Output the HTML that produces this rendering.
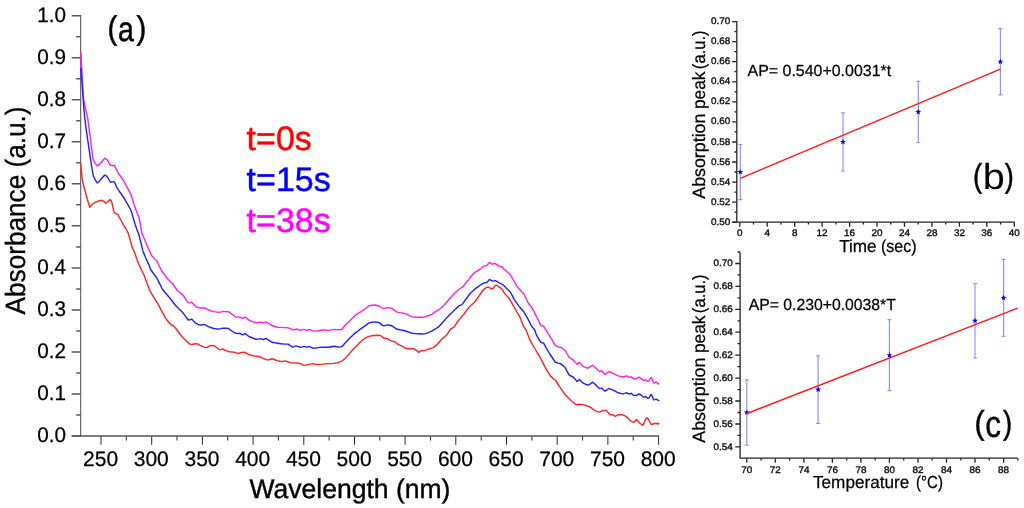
<!DOCTYPE html>
<html><head><meta charset="utf-8"><title>Figure</title>
<style>
html,body{margin:0;padding:0;background:#fff;}
body{width:1024px;height:508px;overflow:hidden;}
svg{display:block;font-family:"Liberation Sans",sans-serif;text-rendering:geometricPrecision;}
</style></head><body>
<svg width="1024" height="508" viewBox="0 0 1024 508">
<defs><filter id="soft" x="0" y="0" width="1024" height="508" filterUnits="userSpaceOnUse"><feGaussianBlur stdDeviation="0.35"/></filter></defs>
<rect width="1024" height="508" fill="#fff"/>
<g filter="url(#soft)">
<path d="M80.7,15.1 V436.6" stroke="#505050" stroke-width="1.05" fill="none"/>
<path d="M101.0,436.0 V444.8 M151.7,436.0 V444.8 M202.4,436.0 V444.8 M253.1,436.0 V444.8 M303.8,436.0 V444.8 M354.5,436.0 V444.8 M405.1,436.0 V444.8 M455.8,436.0 V444.8 M506.5,436.0 V444.8 M557.2,436.0 V444.8 M607.9,436.0 V444.8 M658.6,436.0 V444.8 M126.3,436.0 V440.5 M177.0,436.0 V440.5 M227.7,436.0 V440.5 M278.4,436.0 V440.5 M329.1,436.0 V440.5 M379.8,436.0 V440.5 M430.5,436.0 V440.5 M481.2,436.0 V440.5 M531.9,436.0 V440.5 M582.6,436.0 V440.5 M633.2,436.0 V440.5 " stroke="#2c2c2c" stroke-width="1.0" fill="none"/>
<path d="M71.7,436.0 H659.1" stroke="#555" stroke-width="1.35" fill="none"/>
<path d="M71.7,436.0 H80.7 M71.7,394.0 H80.7 M71.7,351.9 H80.7 M71.7,309.9 H80.7 M71.7,267.9 H80.7 M71.7,225.8 H80.7 M71.7,183.8 H80.7 M71.7,141.8 H80.7 M71.7,99.8 H80.7 M71.7,57.7 H80.7 M71.7,15.7 H80.7 M76.2,415.0 H80.7 M76.2,373.0 H80.7 M76.2,330.9 H80.7 M76.2,288.9 H80.7 M76.2,246.9 H80.7 M76.2,204.8 H80.7 M76.2,162.8 H80.7 M76.2,120.8 H80.7 M76.2,78.7 H80.7 M76.2,36.7 H80.7 " stroke="#5a5a5a" stroke-width="1.5" fill="none"/>
<g font-size="20" fill="#000" stroke="#000" stroke-width="0.25">
<text transform="translate(66,442.0) scale(0.985,1)" font-size="21" text-anchor="end">0.0</text>
<text transform="translate(66,400.0) scale(0.985,1)" font-size="21" text-anchor="end">0.1</text>
<text transform="translate(66,357.9) scale(0.985,1)" font-size="21" text-anchor="end">0.2</text>
<text transform="translate(66,315.9) scale(0.985,1)" font-size="21" text-anchor="end">0.3</text>
<text transform="translate(66,273.9) scale(0.985,1)" font-size="21" text-anchor="end">0.4</text>
<text transform="translate(66,231.8) scale(0.985,1)" font-size="21" text-anchor="end">0.5</text>
<text transform="translate(66,189.8) scale(0.985,1)" font-size="21" text-anchor="end">0.6</text>
<text transform="translate(66,147.8) scale(0.985,1)" font-size="21" text-anchor="end">0.7</text>
<text transform="translate(66,105.8) scale(0.985,1)" font-size="21" text-anchor="end">0.8</text>
<text transform="translate(66,63.7) scale(0.985,1)" font-size="21" text-anchor="end">0.9</text>
<text transform="translate(66,21.7) scale(0.985,1)" font-size="21" text-anchor="end">1.0</text>
<text x="100.6" y="466.1" font-size="21" text-anchor="middle">250</text>
<text x="151.3" y="466.1" font-size="21" text-anchor="middle">300</text>
<text x="202.0" y="466.1" font-size="21" text-anchor="middle">350</text>
<text x="252.7" y="466.1" font-size="21" text-anchor="middle">400</text>
<text x="303.4" y="466.1" font-size="21" text-anchor="middle">450</text>
<text x="354.1" y="466.1" font-size="21" text-anchor="middle">500</text>
<text x="404.7" y="466.1" font-size="21" text-anchor="middle">550</text>
<text x="455.4" y="466.1" font-size="21" text-anchor="middle">600</text>
<text x="506.1" y="466.1" font-size="21" text-anchor="middle">650</text>
<text x="556.8" y="466.1" font-size="21" text-anchor="middle">700</text>
<text x="607.5" y="466.1" font-size="21" text-anchor="middle">750</text>
<text x="658.2" y="466.1" font-size="21" text-anchor="middle">800</text>
</g>
<text transform="translate(249.38,497.50) scale(0.9829,1.0000)" font-size="27.0" fill="#000" stroke="#000" stroke-width="0.4">Wavelength (nm)</text>
<text transform="translate(25.20,314.45) rotate(-90) scale(0.9382,1.0000)" font-size="27.9" fill="#000" stroke="#000" stroke-width="0.3">Absorbance (a.u.)</text>
<text transform="translate(107.48,38.62) scale(0.8915,0.9921)" font-size="33" fill="#000" stroke="#000" stroke-width="0.5">(</text>
<text transform="translate(118.08,40.66) scale(0.8672,1.0509)" font-size="33" fill="#000" stroke="#000" stroke-width="0.5">a</text>
<text transform="translate(136.53,38.62) scale(0.8915,0.9921)" font-size="33" fill="#000" stroke="#000" stroke-width="0.5">)</text>
<text transform="translate(246.6,149.9) scale(1,1.0)" font-size="34" fill="#ff0000" stroke="#ff0000" stroke-width="0.45">t=0s</text>
<text transform="translate(246.6,191.4) scale(1,1.0)" font-size="34" fill="#0000ff" stroke="#0000ff" stroke-width="0.45">t=15s</text>
<text transform="translate(246.6,232.3) scale(1,1.0)" font-size="34" fill="#ff00ff" stroke="#ff00ff" stroke-width="0.45">t=38s</text>
<g fill="none" stroke-width="1.45" stroke-linejoin="round" stroke-linecap="round">
<path d="M80.6,163.0 L82.3,179.8 L83.5,185.0 L84.7,189.8 L85.8,193.6 L87.5,199.8 L89.8,207.2 L92.0,204.5 L94.7,202.6 L98.0,201.2 L101.6,200.3 L104.0,201.5 L105.9,203.2 L108.3,201.2 L110.4,199.7 L111.5,201.5 L112.4,204.6 L113.4,209.5 L114.4,213.1 L116.0,213.6 L117.7,214.4 L120.3,219.0 L123.2,224.3 L125.8,228.5 L128.2,233.1 L130.2,240.0 L132.1,246.9 L135.1,253.8 L137.0,259.5 L139.0,264.6 L141.5,270.0 L143.9,274.8 L146.8,282.5 L149.8,290.5 L153.8,297.3 L157.7,303.3 L161.6,310.8 L165.5,318.1 L168.5,322.0 L171.4,325.0 L173.4,325.8 L175.4,327.9 L178.3,331.8 L181.3,335.8 L184.3,338.9 L187.2,341.7 L189.2,343.6 L191.1,344.6 L194.0,344.0 L197.0,343.7 L200.0,345.3 L202.9,346.6 L205.0,347.4 L206.9,347.6 L208.9,346.3 L210.8,345.6 L212.8,345.5 L214.7,346.0 L217.2,348.0 L219.7,349.6 L221.2,349.6 L222.6,349.0 L224.6,350.0 L226.6,350.9 L229.5,351.7 L234.0,352.1 L236.2,352.9 L238.4,353.5 L241.0,352.6 L243.7,352.1 L246.0,353.0 L248.2,354.2 L251.3,355.2 L254.4,356.1 L256.6,356.2 L258.8,356.5 L261.5,357.7 L264.1,358.8 L266.4,359.6 L268.6,360.0 L270.4,359.3 L272.1,358.8 L274.8,359.7 L277.4,360.6 L280.0,361.2 L282.7,361.5 L285.4,360.9 L287.6,361.7 L289.8,362.7 L293.3,362.9 L296.9,363.0 L300.5,363.6 L302.3,364.6 L304.0,365.4 L307.6,364.8 L310.3,364.1 L312.9,363.6 L315.5,364.2 L318.2,364.5 L323.5,364.1 L327.1,363.6 L332.4,363.6 L335.0,363.3 L337.7,362.7 L340.0,361.9 L342.1,360.9 L344.5,359.0 L346.6,356.8 L349.3,353.8 L352.0,350.6 L354.6,348.0 L357.3,345.3 L360.0,342.6 L362.6,340.0 L365.3,338.2 L367.9,336.8 L371.0,335.9 L374.1,335.5 L377.2,335.3 L380.3,335.5 L382.1,336.6 L383.9,338.2 L385.6,338.3 L387.4,338.7 L389.2,339.8 L391.0,340.9 L392.8,341.2 L394.5,341.7 L396.3,343.0 L398.1,344.4 L400.3,345.3 L402.5,346.2 L404.2,347.3 L406.0,348.5 L407.8,348.8 L409.6,348.8 L411.8,348.7 L414.0,348.8 L416.4,350.4 L418.8,352.4 L420.0,351.5 L421.1,350.6 L422.9,350.7 L424.7,350.6 L427.3,349.6 L430.0,348.5 L431.8,348.1 L433.4,347.6 L437.6,344.1 L442.4,338.6 L446.6,335.2 L450.7,329.0 L454.1,327.2 L458.3,320.7 L462.4,316.1 L467.2,309.7 L470.0,306.2 L474.1,302.8 L478.3,297.2 L482.4,291.0 L484.1,289.4 L485.5,288.1 L486.8,287.2 L488.1,287.2 L489.4,287.6 L490.8,288.5 L492.1,289.0 L493.2,288.2 L494.2,286.9 L495.2,285.7 L496.2,285.1 L497.7,286.0 L499.2,287.2 L500.6,288.0 L501.9,289.0 L503.2,291.1 L504.5,293.4 L506.7,295.7 L508.9,297.9 L510.7,300.9 L512.5,304.1 L514.2,307.2 L516.0,310.3 L518.3,314.3 L520.5,318.3 L521.8,321.8 L523.1,325.4 L524.5,328.0 L525.9,329.5 L527.8,334.5 L529.8,339.7 L532.3,344.2 L534.8,348.5 L537.7,353.5 L540.7,358.4 L543.2,363.3 L545.6,368.2 L548.0,372.2 L550.5,376.1 L553.0,378.4 L555.4,380.0 L557.9,384.0 L560.4,387.9 L562.8,391.4 L565.3,394.8 L568.2,397.8 L571.2,400.7 L573.6,402.7 L576.1,404.6 L579.5,404.3 L583.0,404.6 L586.0,405.5 L588.9,406.6 L591.5,408.0 L593.1,409.3 L595.0,410.6 L597.1,411.7 L600.2,412.0 L601.4,411.2 L602.6,410.6 L604.5,410.4 L606.5,410.6 L608.1,412.5 L609.7,414.5 L611.2,414.7 L612.8,414.8 L614.0,415.7 L615.2,416.4 L616.6,415.6 L618.0,414.8 L620.5,414.7 L623.1,414.8 L625.0,415.9 L627.0,417.2 L629.0,419.2 L630.9,421.1 L632.4,421.9 L633.8,422.4 L635.2,421.0 L636.5,419.6 L638.0,421.3 L639.6,423.0 L641.2,424.3 L642.8,425.4 L644.0,423.2 L645.1,420.4 L646.0,418.8 L647.0,417.7 L647.8,418.5 L648.6,419.6 L649.8,422.0 L651.1,424.3 L652.4,424.2 L653.8,423.8 L656.1,423.2 L657.7,424.0 L658.8,423.5" stroke="#ff2626"/>
<path d="M80.9,52.2 L82.2,76.0 L83.5,99.0 L85.6,109.0 L87.8,118.7 L89.0,128.0 L90.2,136.5 L91.6,148.0 L93.0,159.4 L95.0,163.0 L97.3,166.1 L99.3,164.4 L101.2,162.5 L103.0,160.2 L104.8,158.3 L106.2,159.0 L107.5,160.2 L108.9,162.8 L110.3,165.2 L112.3,165.4 L114.3,165.4 L116.4,169.2 L118.5,173.5 L121.0,177.0 L123.2,180.0 L127.2,187.3 L131.1,194.8 L133.1,201.2 L135.1,207.6 L137.0,212.6 L139.0,217.4 L140.5,225.0 L141.9,233.1 L144.4,239.0 L146.9,245.0 L149.3,250.4 L151.8,255.8 L154.3,258.4 L156.7,260.7 L158.7,265.0 L161.6,270.8 L164.5,274.8 L167.5,278.7 L170.0,281.2 L172.4,283.6 L174.9,287.0 L177.3,290.5 L180.3,293.0 L183.2,295.4 L185.7,299.2 L188.2,302.9 L190.0,302.8 L191.7,302.3 L193.8,304.5 L196.0,306.7 L198.0,307.5 L200.0,308.0 L202.0,308.0 L203.9,307.6 L205.9,308.5 L207.9,309.6 L210.8,310.7 L213.8,311.6 L216.7,312.0 L219.7,312.2 L221.2,311.9 L222.6,311.4 L225.5,311.6 L228.5,311.8 L229.5,312.2 L232.6,314.7 L235.8,317.0 L238.0,317.1 L240.2,317.0 L241.5,317.8 L242.8,318.4 L244.0,317.7 L245.1,317.0 L247.0,318.5 L249.0,320.1 L252.5,321.6 L256.1,322.8 L258.4,322.5 L260.6,321.9 L261.9,322.5 L263.2,322.8 L264.6,322.4 L265.9,321.9 L269.0,323.7 L272.1,325.5 L274.8,326.5 L277.4,327.2 L281.0,327.4 L284.5,327.6 L288.1,327.8 L290.8,328.9 L293.4,329.9 L295.1,329.5 L296.9,329.0 L298.7,329.8 L300.5,330.4 L302.2,329.9 L304.0,329.4 L305.8,329.9 L307.6,330.4 L309.3,329.4 L311.1,330.2 L312.9,331.1 L315.5,331.0 L318.2,330.8 L320.8,330.3 L323.5,329.9 L326.2,330.2 L328.8,330.4 L331.5,329.9 L334.2,329.4 L336.8,329.6 L339.5,329.7 L340.4,329.9 L342.1,329.0 L344.9,325.8 L347.5,323.1 L350.2,320.5 L352.8,317.8 L355.5,315.1 L359.0,312.9 L362.6,310.7 L365.7,308.3 L368.8,305.9 L371.9,305.3 L375.0,305.0 L377.2,305.5 L379.4,306.3 L381.2,307.5 L383.0,308.6 L385.2,308.2 L387.4,307.7 L389.6,307.9 L391.9,308.4 L394.5,310.3 L397.2,312.1 L399.8,312.6 L402.5,313.0 L404.7,313.6 L406.9,314.3 L409.5,315.7 L412.2,316.9 L415.3,317.2 L418.4,317.3 L421.5,317.3 L424.7,317.1 L428.2,315.8 L431.7,314.3 L434.1,312.7 L439.0,309.7 L443.8,305.5 L447.9,300.7 L452.1,295.9 L456.2,291.7 L459.7,289.0 L463.1,286.6 L465.9,282.8 L468.6,279.6 L471.3,276.0 L474.4,272.7 L477.0,271.0 L479.7,269.5 L481.9,267.8 L484.1,266.0 L485.5,265.9 L486.8,265.6 L488.1,264.0 L489.4,262.4 L490.8,263.2 L492.1,264.2 L493.5,263.8 L494.8,263.3 L497.0,264.7 L499.2,266.3 L500.6,266.6 L501.9,266.8 L503.6,268.6 L505.4,270.4 L507.6,272.2 L509.8,273.9 L511.6,277.0 L513.4,280.1 L515.6,283.7 L517.8,287.2 L520.9,290.8 L524.0,294.3 L526.2,298.8 L528.4,303.2 L530.7,306.3 L532.9,309.4 L535.1,313.9 L537.3,318.3 L539.1,321.9 L540.9,325.4 L542.2,325.8 L543.5,326.2 L545.8,329.8 L548.0,333.3 L549.5,335.7 L552.5,340.7 L555.4,345.6 L558.4,346.7 L561.3,347.6 L563.3,349.0 L565.3,350.5 L567.2,354.0 L569.2,357.4 L571.0,358.5 L572.8,359.4 L575.0,361.9 L577.1,364.3 L578.3,363.4 L579.4,362.3 L581.2,364.3 L583.0,366.3 L585.5,367.4 L587.9,368.2 L589.0,367.7 L590.0,366.8 L591.4,365.8 L592.8,365.2 L594.5,366.7 L596.3,368.4 L597.8,370.0 L599.4,371.5 L600.6,371.2 L601.8,370.7 L603.4,372.7 L605.0,374.7 L607.0,373.0 L608.9,371.5 L611.2,372.5 L613.6,373.6 L616.0,374.8 L618.3,375.9 L620.7,376.5 L623.1,377.0 L624.8,376.5 L626.5,375.8 L628.0,376.6 L629.4,377.4 L630.4,377.1 L631.3,376.7 L632.3,377.7 L633.3,378.6 L634.9,378.7 L636.5,378.6 L637.6,377.9 L638.8,377.0 L640.0,377.8 L641.2,378.6 L642.4,379.6 L643.5,380.5 L644.5,380.3 L645.4,379.9 L646.7,380.7 L648.0,381.5 L648.8,381.0 L649.5,380.2 L650.3,378.7 L651.1,377.5 L651.7,378.3 L652.2,379.4 L653.0,381.3 L653.8,383.0 L655.0,382.7 L656.1,382.1 L657.5,383.1 L658.8,384.1" stroke="#ff22e8"/>
<path d="M80.9,68.5 L82.4,88.0 L83.9,108.9 L84.8,118.0 L85.8,126.6 L87.0,135.0 L89.0,148.5 L91.0,162.5 L92.2,169.5 L93.3,175.9 L95.3,180.0 L97.3,183.0 L99.3,181.2 L101.2,179.1 L103.0,176.8 L104.8,175.1 L106.2,175.8 L107.5,177.0 L108.9,179.5 L110.3,181.9 L112.0,181.9 L113.8,181.7 L115.4,184.0 L116.9,187.7 L120.0,192.3 L123.2,196.7 L127.2,203.6 L131.1,210.5 L133.1,217.5 L135.1,224.3 L137.0,229.8 L139.0,235.1 L141.0,243.0 L142.9,250.9 L145.8,258.0 L148.8,264.6 L150.8,269.8 L153.7,273.8 L156.7,277.7 L159.6,283.6 L162.6,289.5 L165.5,293.0 L168.5,296.4 L172.0,300.8 L175.4,305.3 L179.3,309.2 L183.2,313.1 L185.7,316.6 L188.2,320.0 L190.0,319.8 L191.7,319.1 L193.8,321.3 L196.0,323.4 L198.0,324.4 L200.0,325.0 L202.0,325.0 L203.9,324.4 L205.9,325.2 L207.9,326.3 L210.8,327.5 L213.8,328.5 L216.7,328.9 L219.7,328.9 L221.2,328.6 L222.6,328.1 L225.5,328.3 L228.5,328.5 L229.5,329.4 L232.6,331.5 L235.8,333.4 L238.0,333.5 L240.2,333.4 L241.5,334.3 L242.8,334.9 L244.0,334.2 L245.1,333.4 L247.0,335.0 L249.0,336.5 L252.5,338.0 L256.1,339.3 L258.4,339.1 L260.6,338.6 L261.9,339.2 L263.2,339.5 L264.6,339.0 L265.9,338.4 L269.0,340.4 L272.1,342.3 L274.8,342.8 L277.4,343.2 L281.0,343.7 L284.5,344.1 L288.1,344.1 L290.3,345.7 L292.5,347.1 L294.2,346.6 L296.0,345.9 L298.2,346.6 L300.5,347.3 L302.2,346.9 L304.0,346.4 L305.8,346.8 L307.6,347.1 L309.3,346.4 L311.1,347.3 L312.9,348.2 L315.5,348.0 L318.2,347.6 L320.8,347.3 L323.5,347.1 L326.2,347.3 L328.8,347.3 L331.5,346.7 L334.2,346.2 L336.8,346.7 L339.5,347.1 L340.8,346.9 L342.1,346.4 L344.9,343.2 L347.5,340.5 L350.2,337.8 L352.8,335.3 L355.5,332.9 L359.0,330.2 L362.6,327.6 L365.7,325.3 L368.8,323.1 L371.9,322.3 L375.0,321.9 L377.2,322.2 L379.4,322.8 L381.2,324.4 L383.0,325.8 L385.2,325.5 L387.4,324.9 L389.6,325.2 L391.9,325.8 L394.5,327.6 L397.2,329.3 L399.8,329.8 L402.5,330.2 L404.7,330.8 L406.9,331.5 L409.5,332.4 L412.2,333.2 L415.3,333.6 L418.4,333.8 L421.5,334.0 L424.7,333.9 L428.2,332.6 L431.7,331.1 L434.1,329.7 L438.3,327.2 L442.4,322.8 L446.6,317.9 L450.7,313.8 L454.8,309.7 L459.0,305.9 L462.0,304.6 L465.9,299.3 L470.0,293.8 L474.1,289.7 L478.3,286.6 L479.7,285.5 L481.9,284.1 L484.1,282.8 L485.5,282.7 L486.8,282.4 L488.1,281.0 L489.4,279.6 L490.8,280.2 L492.1,281.0 L493.7,280.9 L495.3,280.7 L497.2,281.7 L499.2,282.8 L501.0,283.7 L502.7,284.6 L505.0,286.8 L507.2,289.0 L509.0,290.8 L510.7,292.6 L512.5,296.1 L514.3,299.6 L516.5,302.8 L518.7,305.9 L521.3,309.0 L524.0,312.1 L525.8,315.2 L527.6,318.3 L529.4,321.9 L531.1,325.4 L532.9,327.7 L534.7,329.8 L535.7,332.8 L536.7,335.7 L538.7,338.9 L540.7,342.0 L542.2,342.7 L543.6,343.2 L546.5,348.3 L549.5,353.5 L552.5,358.0 L555.4,362.3 L557.9,363.1 L560.4,363.7 L562.7,365.4 L564.9,367.2 L567.0,371.2 L569.2,375.1 L571.0,376.0 L572.8,376.7 L575.0,379.1 L577.1,381.4 L578.3,380.5 L579.4,379.4 L581.2,381.2 L583.0,383.0 L585.5,384.2 L587.9,385.0 L589.0,384.7 L590.0,384.1 L591.4,383.0 L592.8,382.2 L594.5,383.7 L596.3,385.4 L597.8,387.0 L599.4,388.5 L600.6,388.4 L601.8,388.1 L603.4,389.7 L605.0,391.2 L607.0,389.8 L608.9,388.5 L611.2,389.4 L613.6,390.4 L616.0,391.6 L618.3,392.8 L620.7,393.4 L623.1,393.9 L624.8,393.4 L626.5,392.8 L628.0,393.5 L629.4,394.1 L630.4,393.8 L631.3,393.3 L632.3,394.3 L633.3,395.2 L634.9,395.4 L636.5,395.5 L637.6,394.8 L638.8,393.9 L640.0,394.5 L641.2,395.2 L642.4,396.3 L643.5,397.2 L644.5,396.9 L645.4,396.4 L646.7,397.4 L648.0,398.3 L648.8,397.8 L649.5,397.2 L650.3,395.6 L651.1,394.4 L651.7,395.0 L652.2,395.9 L653.0,398.0 L653.8,399.9 L655.0,399.6 L656.1,399.1 L657.5,399.9 L658.8,400.7" stroke="#2424ff"/>
</g>
<g stroke="#242424" stroke-width="1.3" fill="none">
<path d="M736.8,21.0 V222.2 M732.3,222.2 H1014.9"/>
<path d="M732.2,222.2 H736.8 M732.2,202.1 H736.8 M732.2,182.1 H736.8 M732.2,162.0 H736.8 M732.2,142.0 H736.8 M732.2,121.9 H736.8 M732.2,101.8 H736.8 M732.2,81.8 H736.8 M732.2,61.7 H736.8 M732.2,41.7 H736.8 M732.2,21.6 H736.8 M734.4,212.2 H736.8 M734.4,192.1 H736.8 M734.4,172.0 H736.8 M734.4,152.0 H736.8 M734.4,131.9 H736.8 M734.4,111.9 H736.8 M734.4,91.8 H736.8 M734.4,71.7 H736.8 M734.4,51.7 H736.8 M734.4,31.6 H736.8 M739.8,222.2 V226.8 M767.2,222.2 V226.8 M794.7,222.2 V226.8 M822.1,222.2 V226.8 M849.6,222.2 V226.8 M877.0,222.2 V226.8 M904.5,222.2 V226.8 M931.9,222.2 V226.8 M959.4,222.2 V226.8 M986.8,222.2 V226.8 M1014.3,222.2 V226.8 M753.5,222.2 V224.6 M781.0,222.2 V224.6 M808.4,222.2 V224.6 M835.9,222.2 V224.6 M863.3,222.2 V224.6 M890.8,222.2 V224.6 M918.2,222.2 V224.6 M945.7,222.2 V224.6 M973.1,222.2 V224.6 M1000.6,222.2 V224.6 "/>
</g>
<g font-size="9.5" fill="#111" stroke="#111" stroke-width="0.38">
<text transform="translate(730.2,224.7) scale(1.04,1)" text-anchor="end">0.50</text>
<text transform="translate(730.2,204.6) scale(1.04,1)" text-anchor="end">0.52</text>
<text transform="translate(730.2,184.6) scale(1.04,1)" text-anchor="end">0.54</text>
<text transform="translate(730.2,164.5) scale(1.04,1)" text-anchor="end">0.56</text>
<text transform="translate(730.2,144.5) scale(1.04,1)" text-anchor="end">0.58</text>
<text transform="translate(730.2,124.4) scale(1.04,1)" text-anchor="end">0.60</text>
<text transform="translate(730.2,104.3) scale(1.04,1)" text-anchor="end">0.62</text>
<text transform="translate(730.2,84.3) scale(1.04,1)" text-anchor="end">0.64</text>
<text transform="translate(730.2,64.2) scale(1.04,1)" text-anchor="end">0.66</text>
<text transform="translate(730.2,44.2) scale(1.04,1)" text-anchor="end">0.68</text>
<text transform="translate(730.2,24.1) scale(1.04,1)" text-anchor="end">0.70</text>
<text transform="translate(739.8,236.0) scale(1.04,1)" text-anchor="middle">0</text>
<text transform="translate(767.2,236.0) scale(1.04,1)" text-anchor="middle">4</text>
<text transform="translate(794.7,236.0) scale(1.04,1)" text-anchor="middle">8</text>
<text transform="translate(822.1,236.0) scale(1.04,1)" text-anchor="middle">12</text>
<text transform="translate(849.6,236.0) scale(1.04,1)" text-anchor="middle">16</text>
<text transform="translate(877.0,236.0) scale(1.04,1)" text-anchor="middle">20</text>
<text transform="translate(904.5,236.0) scale(1.04,1)" text-anchor="middle">24</text>
<text transform="translate(931.9,236.0) scale(1.04,1)" text-anchor="middle">28</text>
<text transform="translate(959.4,236.0) scale(1.04,1)" text-anchor="middle">32</text>
<text transform="translate(986.8,236.0) scale(1.04,1)" text-anchor="middle">36</text>
<text transform="translate(1014.3,236.0) scale(1.04,1)" text-anchor="middle">40</text>
</g>
<text transform="translate(839.22,251.80) scale(0.9896,1.0000)" font-size="17.3" fill="#000" stroke="#000" stroke-width="0.25">Time</text>
<text transform="translate(880.90,251.80) scale(0.9284,1.0000)" font-size="17.3" fill="#000" stroke="#000" stroke-width="0.25">(sec)</text>
<text transform="translate(704.90,198.73) rotate(-90) scale(0.9955,1.0000)" font-size="17.9" fill="#000" stroke="#000" stroke-width="0.25">Absorption</text>
<text transform="translate(704.90,109.12) rotate(-90) scale(0.9685,1.0000)" font-size="17.9" fill="#000" stroke="#000" stroke-width="0.25">peak</text>
<text transform="translate(704.90,69.13) rotate(-90) scale(0.9277,1.0000)" font-size="17.9" fill="#000" stroke="#000" stroke-width="0.25">(a.u.)</text>
<text transform="translate(747.57,75.60) scale(0.9960,1.0000)" font-size="16.0" fill="#000" stroke="#000" stroke-width="0.25">AP= 0.540+0.0031*t</text>
<text transform="translate(972.99,186.86) scale(0.8343,1.0018)" font-size="33" fill="#000" stroke="#000" stroke-width="0.5">(</text>
<text transform="translate(982.75,188.55) scale(1.1994,1.0935)" font-size="33" fill="#000" >b</text>
<text transform="translate(1004.74,186.86) scale(0.8229,1.0018)" font-size="33" fill="#000" stroke="#000" stroke-width="0.5">)</text>
<path d="M740.3,144.5 V199.6 M738.3,144.5 h4 M738.3,199.6 h4" stroke="#9292ff" stroke-width="1.2" fill="none"/>
<path d="M843.0,112.9 V171.0 M841.0,112.9 h4 M841.0,171.0 h4" stroke="#9292ff" stroke-width="1.2" fill="none"/>
<path d="M918.3,81.3 V142.5 M916.3,81.3 h4 M916.3,142.5 h4" stroke="#9292ff" stroke-width="1.2" fill="none"/>
<path d="M1000.4,28.6 V94.8 M998.4,28.6 h4 M998.4,94.8 h4" stroke="#9292ff" stroke-width="1.2" fill="none"/>
<polygon points="740.30,168.95 741.07,171.00 743.25,171.09 741.54,172.45 742.12,174.56 740.30,173.35 738.48,174.56 739.06,172.45 737.35,171.09 739.53,171.00" fill="#0000ff"/>
<polygon points="842.97,138.86 843.74,140.91 845.92,141.00 844.21,142.36 844.80,144.47 842.97,143.26 841.15,144.47 841.74,142.36 840.03,141.00 842.21,140.91" fill="#0000ff"/>
<polygon points="918.27,108.77 919.04,110.82 921.22,110.91 919.51,112.27 920.09,114.38 918.27,113.17 916.45,114.38 917.03,112.27 915.32,110.91 917.50,110.82" fill="#0000ff"/>
<polygon points="1000.41,58.62 1001.18,60.67 1003.36,60.76 1001.65,62.12 1002.23,64.23 1000.41,63.02 998.59,64.23 999.17,62.12 997.46,60.76 999.64,60.67" fill="#0000ff"/>
<path d="M740.3,178.3 L1000.4,69.1" stroke="#ff1a1a" stroke-width="1.4" fill="none"/>
<g stroke="#242424" stroke-width="1.3" fill="none">
<path d="M740.1,252.3 V458.2 M739.5,458.2 H1017.6"/>
<path d="M735.3,446.9 H740.1 M735.3,424.0 H740.1 M735.3,401.0 H740.1 M735.3,378.1 H740.1 M735.3,355.2 H740.1 M735.3,332.2 H740.1 M735.3,309.3 H740.1 M735.3,286.4 H740.1 M735.3,263.5 H740.1 M737.5,435.4 H740.1 M737.5,412.5 H740.1 M737.5,389.6 H740.1 M737.5,366.6 H740.1 M737.5,343.7 H740.1 M737.5,320.8 H740.1 M737.5,297.9 H740.1 M737.5,274.9 H740.1 M737.5,252.0 H740.1 M746.8,458.2 V462.8 M775.3,458.2 V462.8 M803.9,458.2 V462.8 M832.4,458.2 V462.8 M860.9,458.2 V462.8 M889.4,458.2 V462.8 M918.0,458.2 V462.8 M946.5,458.2 V462.8 M975.0,458.2 V462.8 M1003.6,458.2 V462.8 M761.1,458.2 V460.6 M789.6,458.2 V460.6 M818.1,458.2 V460.6 M846.7,458.2 V460.6 M875.2,458.2 V460.6 M903.7,458.2 V460.6 M932.2,458.2 V460.6 M960.8,458.2 V460.6 M989.3,458.2 V460.6 M1017.8,458.2 V460.6 "/>
</g>
<g font-size="9.5" fill="#111" stroke="#111" stroke-width="0.38">
<text transform="translate(732.8,449.6) scale(1.04,1)" text-anchor="end">0.54</text>
<text transform="translate(732.8,426.7) scale(1.04,1)" text-anchor="end">0.56</text>
<text transform="translate(732.8,403.7) scale(1.04,1)" text-anchor="end">0.58</text>
<text transform="translate(732.8,380.8) scale(1.04,1)" text-anchor="end">0.60</text>
<text transform="translate(732.8,357.9) scale(1.04,1)" text-anchor="end">0.62</text>
<text transform="translate(732.8,334.9) scale(1.04,1)" text-anchor="end">0.64</text>
<text transform="translate(732.8,312.0) scale(1.04,1)" text-anchor="end">0.66</text>
<text transform="translate(732.8,289.1) scale(1.04,1)" text-anchor="end">0.68</text>
<text transform="translate(732.8,266.2) scale(1.04,1)" text-anchor="end">0.70</text>
<text transform="translate(746.8,472.7) scale(1.04,1)" text-anchor="middle">70</text>
<text transform="translate(775.3,472.7) scale(1.04,1)" text-anchor="middle">72</text>
<text transform="translate(803.9,472.7) scale(1.04,1)" text-anchor="middle">74</text>
<text transform="translate(832.4,472.7) scale(1.04,1)" text-anchor="middle">76</text>
<text transform="translate(860.9,472.7) scale(1.04,1)" text-anchor="middle">78</text>
<text transform="translate(889.4,472.7) scale(1.04,1)" text-anchor="middle">80</text>
<text transform="translate(918.0,472.7) scale(1.04,1)" text-anchor="middle">82</text>
<text transform="translate(946.5,472.7) scale(1.04,1)" text-anchor="middle">84</text>
<text transform="translate(975.0,472.7) scale(1.04,1)" text-anchor="middle">86</text>
<text transform="translate(1003.6,472.7) scale(1.04,1)" text-anchor="middle">88</text>
</g>
<text transform="translate(813.01,488.20) scale(0.9863,1.0000)" font-size="17.4" fill="#000" stroke="#000" stroke-width="0.25">Temperature</text>
<text transform="translate(916.07,488.20) scale(0.8634,1.0000)" font-size="17.4" fill="#000" stroke="#000" stroke-width="0.25">(°C)</text>
<text transform="translate(704.80,442.73) rotate(-90) scale(0.9955,1.0000)" font-size="17.9" fill="#000" stroke="#000" stroke-width="0.25">Absorption</text>
<text transform="translate(704.80,353.12) rotate(-90) scale(0.9685,1.0000)" font-size="17.9" fill="#000" stroke="#000" stroke-width="0.25">peak</text>
<text transform="translate(704.80,313.13) rotate(-90) scale(0.9277,1.0000)" font-size="17.9" fill="#000" stroke="#000" stroke-width="0.25">(a.u.)</text>
<text transform="translate(748.77,310.40) scale(0.9842,1.0000)" font-size="16.0" fill="#000" stroke="#000" stroke-width="0.25">AP= 0.230+0.0038*T</text>
<text transform="translate(974.43,434.06) scale(0.9143,1.0018)" font-size="33" fill="#000" stroke="#000" stroke-width="0.5">(</text>
<text transform="translate(985.26,436.53) scale(0.9559,1.1394)" font-size="33" fill="#000" stroke="#000" stroke-width="0.35">c</text>
<text transform="translate(1003.04,434.06) scale(0.8343,1.0018)" font-size="33" fill="#000" stroke="#000" stroke-width="0.5">)</text>
<path d="M746.8,379.8 V445.2 M744.8,379.8 h4 M744.8,445.2 h4" stroke="#9292ff" stroke-width="1.2" fill="none"/>
<path d="M818.1,355.8 V423.4 M816.1,355.8 h4 M816.1,423.4 h4" stroke="#9292ff" stroke-width="1.2" fill="none"/>
<path d="M889.4,319.6 V390.7 M887.4,319.6 h4 M887.4,390.7 h4" stroke="#9292ff" stroke-width="1.2" fill="none"/>
<path d="M975.0,283.5 V358.0 M973.0,283.5 h4 M973.0,358.0 h4" stroke="#9292ff" stroke-width="1.2" fill="none"/>
<path d="M1003.6,259.4 V336.3 M1001.6,259.4 h4 M1001.6,336.3 h4" stroke="#9292ff" stroke-width="1.2" fill="none"/>
<polygon points="746.80,409.41 747.57,411.45 749.75,411.55 748.04,412.91 748.62,415.01 746.80,413.81 744.98,415.01 745.56,412.91 743.85,411.55 746.03,411.45" fill="#0000ff"/>
<polygon points="818.12,386.48 818.89,388.52 821.07,388.62 819.36,389.98 819.95,392.08 818.12,390.88 816.30,392.08 816.89,389.98 815.18,388.62 817.36,388.52" fill="#0000ff"/>
<polygon points="889.45,352.08 890.22,354.13 892.40,354.22 890.69,355.58 891.27,357.69 889.45,356.48 887.63,357.69 888.21,355.58 886.50,354.22 888.68,354.13" fill="#0000ff"/>
<polygon points="975.04,317.68 975.81,319.73 977.99,319.83 976.28,321.19 976.86,323.29 975.04,322.09 973.22,323.29 973.80,321.19 972.09,319.83 974.27,319.73" fill="#0000ff"/>
<polygon points="1003.57,294.75 1004.34,296.80 1006.52,296.90 1004.81,298.26 1005.39,300.36 1003.57,299.16 1001.75,300.36 1002.33,298.26 1000.62,296.90 1002.80,296.80" fill="#0000ff"/>
<path d="M746.9,413.5 L1017.7,308.1" stroke="#ff1a1a" stroke-width="1.4" fill="none"/>
</g>
</svg>
</body></html>
